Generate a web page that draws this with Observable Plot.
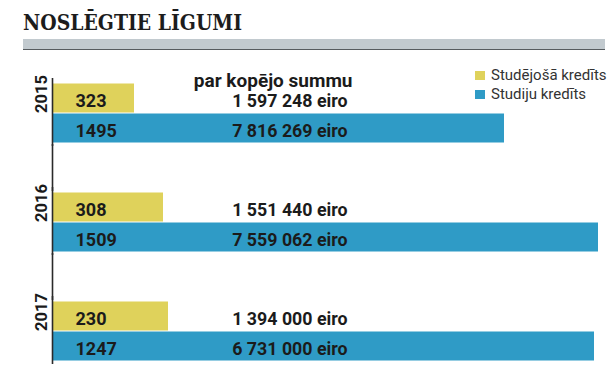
<!DOCTYPE html>
<html>
<head>
<meta charset="utf-8">
<script src="https://cdn.jsdelivr.net/npm/d3@7"></script>
<script src="https://cdn.jsdelivr.net/npm/@observablehq/plot@0.6"></script>
<style>
  html, body { margin: 0; padding: 0; background: #fff; }
  #wrap { position: relative; width: 609px; height: 376px; overflow: hidden; font-family: Roboto, "Noto Sans", sans-serif; }
  #title { position: absolute; left: 23px; top: 6px; font-family: "DejaVu Serif", serif; font-weight: bold; font-size: 22.6px; color: #1c1c1c; white-space: nowrap; line-height: 32px; transform-origin: 0 50%; }
  #band { position: absolute; left: 23px; top: 39px; width: 582px; height: 10px; background: #c2cacf; border-bottom: 1.5px solid #565b5f; }
  #chart { position: absolute; left: 0; top: 52px; }
  .leg { position: absolute; left: 475px; font-size: 15px; color: #333; white-space: nowrap; }
  .leg i { display: inline-block; width: 10px; height: 9px; margin-right: 6px; vertical-align: 0px; }
</style>
</head>
<body>
<div id="wrap">
  <div id="title">NOSLĒGTIE LĪGUMI</div>
  <div id="band"></div>
  <div id="chart"></div>
  <div id="legend"></div>
</div>
<script>
// ---- data ----
const years = ["2015", "2016", "2017"];
const seriesNames = ["Studējošā kredīts", "Studiju kredīts"];
const seriesColors = ["#dfd25b", "#2f9bc6"];
// number of contracts
const countsStudejosa = [323, 308, 230];
const countsStudiju = [1495, 1509, 1247];
// total sum, euro
const sumsStudejosa = [1597248, 1551440, 1394000];
const sumsStudiju = [7816269, 7559062, 6731000];
// bar lengths as drawn in the original (its bars are not to scale), relative units
const barStudejosa = [82, 111, 116];
const barStudiju = [452, 546, 542];
const headerText = "par kopējo summu";

const fmt = d3.formatLocale({decimal: ",", thousands: " ", grouping: [3], currency: ["", ""]}).format(",d");

const rows = years.flatMap((year, i) => [
  {year, series: seriesNames[0], count: countsStudejosa[i], sum: sumsStudejosa[i], len: barStudejosa[i]},
  {year, series: seriesNames[1], count: countsStudiju[i], sum: sumsStudiju[i], len: barStudiju[i]}
]);

const sumLabelX = 295;
const isFirst = d => d.series === seriesNames[0];

const chart = Plot.plot({
  width: 609,
  height: 324,
  marginLeft: 52,
  marginRight: 0,
  marginTop: 29,
  marginBottom: 13,
  style: {fontFamily: "Roboto, 'Noto Sans', sans-serif", color: "#1b1b1b", background: "transparent"},
  x: {domain: [0, 557], axis: null},
  y: {domain: seriesNames, axis: null, padding: 0},
  fy: {domain: years, axis: null, paddingInner: 0.436, paddingOuter: 0},
  color: {domain: seriesNames, range: seriesColors},
  facet: {data: rows, y: "year", label: null},
  marks: [
    Plot.barX(rows, {x: "len", y: "series", fill: "series", insetTop: 0.5, insetBottom: 0.5}),
    // axis line, continuous through the groups
    Plot.ruleX(rows, {filter: isFirst, x: () => 0, stroke: "#2a2a2a", strokeWidth: 1.6, insetTop: -4, insetBottom: -3}),
    Plot.ruleX(rows, {filter: d => isFirst(d) && d.year !== years[years.length - 1], x: () => 0, stroke: "#2a2a2a", strokeWidth: 1.6, insetTop: 62, insetBottom: -48}),
    // year labels
    Plot.text(rows, {filter: isFirst, text: "year", frameAnchor: "left", rotate: -90, dx: -11, fontSize: 16.5, fontWeight: "bold", fill: "#1b1b1b"}),
    // counts
    Plot.text(rows, {x: () => 0, y: "series", text: d => String(d.count), textAnchor: "start", dx: 23, dy: 2.5, fontSize: 18, fontWeight: "bold", fill: "#1b1b1b"}),
    // sums
    Plot.text(rows, {x: () => sumLabelX, y: "series", text: d => fmt(d.sum) + " eiro", textAnchor: "end", dy: 3, fontSize: 17.8, fontWeight: "bold", fill: "#1b1b1b"}),
    // header above the first sum
    Plot.text(rows, {filter: d => isFirst(d) && d.year === years[0], x: () => sumLabelX + 5, y: "series", text: () => headerText, textAnchor: "end", dy: -17.5, fontSize: 19, fontWeight: "bold", fill: "#1b1b1b"})
  ]
});
document.getElementById("chart").appendChild(chart);

// fit the title to the width it has in the original
const title = document.getElementById("title");
const tw = title.getBoundingClientRect().width;
if (tw > 0) title.style.transform = `scaleX(${219 / tw})`;

// legend
const legend = document.getElementById("legend");
seriesNames.forEach((name, i) => {
  const div = document.createElement("div");
  div.className = "leg";
  div.style.top = (66 + i * 19) + "px";
  div.innerHTML = `<i style="background:${seriesColors[i]}"></i>${name}`;
  legend.appendChild(div);
});
</script>
</body>
</html>
